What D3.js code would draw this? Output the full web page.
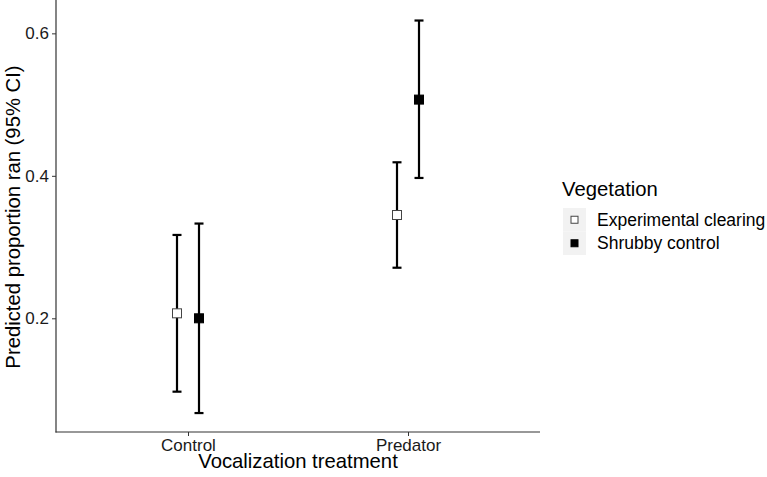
<!DOCTYPE html>
<html>
<head>
<meta charset="utf-8">
<script src="https://cdn.jsdelivr.net/npm/d3@7"></script>
<style>
  body { margin: 0; background: #fff; }
  text { font-family: "Liberation Sans", Arial, sans-serif; }
</style>
</head>
<body>
<script>
// values
const treatments = ["Control", "Predator"]
const vegetation = ["Experimental clearing", "Shrubby control"]
const estimate = [[0.207, 0.200], [0.345, 0.507]]
const lower = [[0.097, 0.067], [0.271, 0.397]]
const upper = [[0.317, 0.333], [0.419, 0.618]]
const yTicks = [0.2, 0.4, 0.6]

let w = 767
let h = 477
let mLeft = 56, mRight = 540, mTop = 2, mBottom = 432

let svg = d3.select("body").append("svg")
    .attr("width", w)
    .attr("height", h)

// discrete axis with ggplot-style 0.6 expansion
let xScale = d3.scaleLinear().domain([0.4, 2.6]).range([mLeft, mRight])
let yScale = d3.scaleLinear().domain([0.0404, 0.644]).range([mBottom, mTop])
let dodge = 0.05

let rows = []
treatments.forEach((t, i) => vegetation.forEach((v, j) => rows.push({
    t: t, v: v, j: j,
    x: i + 1 + (j == 0 ? -dodge : dodge),
    est: estimate[i][j], lo: lower[i][j], hi: upper[i][j]
})))

// axes
let yAxis = d3.axisLeft(yScale).tickValues(yTicks).tickFormat(d3.format(".1f")).tickSize(4).tickPadding(3)
let xAxis = d3.axisBottom(xScale).tickValues([1, 2]).tickFormat(d => treatments[d - 1]).tickSize(4).tickPadding(3)

let gy = svg.append("g").attr("transform", `translate(${mLeft},0)`).call(yAxis)
let gx = svg.append("g").attr("transform", `translate(0,${mBottom})`).call(xAxis)
;[gx, gy].forEach(g => {
    g.select(".domain").remove()
    g.selectAll(".tick line").attr("stroke", "#333").attr("stroke-width", 1)
    g.selectAll(".tick text").attr("fill", "#1a1a1a").style("font-size", "17px")
})
svg.append("line").attr("x1", mLeft).attr("x2", mLeft).attr("y1", 0).attr("y2", mBottom + 0.5)
    .attr("stroke", "#333").attr("stroke-width", 1.2)
svg.append("line").attr("x1", mLeft - 0.5).attr("x2", mRight).attr("y1", mBottom).attr("y2", mBottom)
    .attr("stroke", "#333").attr("stroke-width", 1.2)

// error bars
let eb = svg.append("g").selectAll("g").data(rows).enter().append("g")
eb.append("line")
    .attr("x1", d => xScale(d.x)).attr("x2", d => xScale(d.x))
    .attr("y1", d => yScale(d.lo)).attr("y2", d => yScale(d.hi))
    .attr("stroke", "#000").attr("stroke-width", 2.2)
eb.selectAll(".cap").data(d => [[d.x, d.lo], [d.x, d.hi]]).enter().append("line")
    .attr("x1", d => xScale(d[0]) - 4.5).attr("x2", d => xScale(d[0]) + 4.5)
    .attr("y1", d => yScale(d[1])).attr("y2", d => yScale(d[1]))
    .attr("stroke", "#000").attr("stroke-width", 2.2)

// points
let s = 9
svg.append("g").selectAll("rect").data(rows).enter().append("rect")
    .attr("x", d => xScale(d.x) - s / 2)
    .attr("y", d => yScale(d.est) - s / 2)
    .attr("width", s).attr("height", s)
    .attr("fill", d => d.j == 0 ? "#fff" : "#000")
    .attr("stroke", d => d.j == 0 ? "#444" : "#000")
    .attr("stroke-width", 1)

// axis titles
svg.append("text").attr("x", (mLeft + mRight) / 2).attr("y", 468)
    .attr("text-anchor", "middle").style("font-size", "20.3px").attr("fill", "#000")
    .text("Vocalization treatment")
svg.append("text").attr("transform", `translate(19.5,${(mTop + mBottom) / 2}) rotate(-90)`)
    .attr("text-anchor", "middle").style("font-size", "20.3px").attr("fill", "#000")
    .text("Predicted proportion ran (95% CI)")

// legend
let lg = svg.append("g").attr("transform", "translate(563,0)")
lg.append("text").attr("x", -1).attr("y", 196).style("font-size", "20.3px").attr("fill", "#000").text("Vegetation")
vegetation.forEach((v, j) => {
    let y0 = 208 + j * 23.5
    lg.append("rect").attr("x", 0).attr("y", y0).attr("width", 23).attr("height", 23.5).attr("fill", "#f2f2f2")
    lg.append("rect").attr("x", 11.5 - 3.5).attr("y", y0 + 11.75 - 3.5).attr("width", 7).attr("height", 7)
        .attr("fill", j == 0 ? "#fff" : "#000").attr("stroke", j == 0 ? "#444" : "#000").attr("stroke-width", 1)
    lg.append("text").attr("x", 34).attr("y", y0 + 17.5).style("font-size", "17.5px").attr("fill", "#000").text(v)
})
</script>
</body>
</html>
